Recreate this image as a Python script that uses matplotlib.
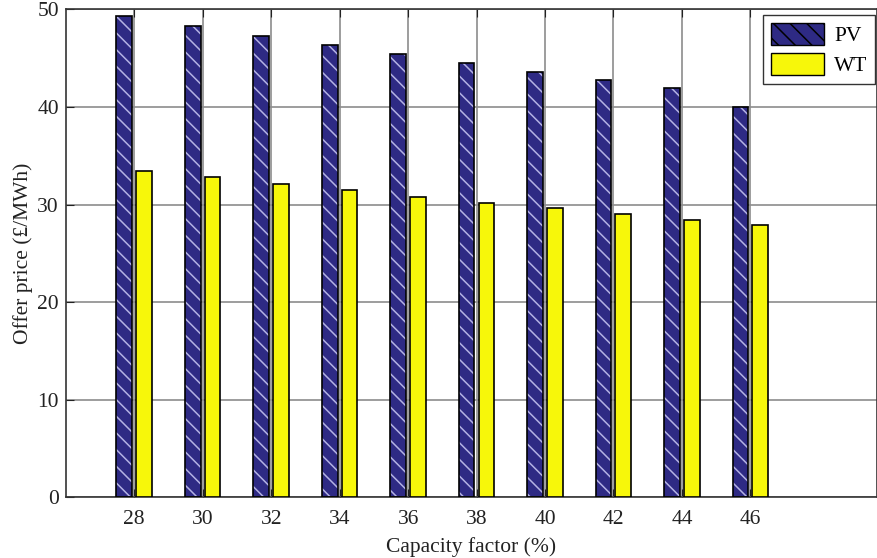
import numpy as np
import matplotlib
matplotlib.use('Agg')
import matplotlib.pyplot as plt
from matplotlib.patches import Patch

plt.rcParams['font.family'] = ['Liberation Serif', 'DejaVu Serif']
plt.rcParams['hatch.linewidth'] = 1.1

capacity = [28, 30, 32, 34, 36, 38, 40, 42, 44, 46]
pv_price = [49.3, 48.3, 47.3, 46.4, 45.4, 44.5, 43.6, 42.8, 41.9, 40.0]
wt_price = [33.4, 32.8, 32.1, 31.5, 30.8, 30.2, 29.6, 29.0, 28.4, 27.9]

pv_color = '#2e2a84'
hatch_color = '#b4b2e4'
wt_color = '#f7f70a'

x = np.array(capacity, dtype=float)
w = 0.46
off = 0.29

fig = plt.figure(figsize=(8.77, 5.58), dpi=100)
ax = fig.add_axes([0.075, 0.109, 0.925, 0.874])

# hatched fill first, then black outline on top
ax.bar(x - off, pv_price, width=w, color=pv_color, edgecolor=hatch_color,
       hatch='\\\\', linewidth=0, zorder=2)
ax.bar(x - off, pv_price, width=w, color='none', edgecolor='black',
       linewidth=1.2, zorder=3)
ax.bar(x + off, wt_price, width=w, color=wt_color, edgecolor='black',
       linewidth=1.2, zorder=3)

ax.set_xlim(26, 49.7)
ax.set_ylim(0, 50)
ax.set_xticks(capacity)
ax.set_yticks([0, 10, 20, 30, 40, 50])
ax.grid(True, color='#8c8c8c', linewidth=1.2)
ax.set_axisbelow(True)
ax.tick_params(direction='in', length=6, labelsize=15.5, colors='#222222',
               top=True, right=False)
ax.tick_params(axis='x', pad=9)
ax.tick_params(axis='y', pad=5)
for s in ax.spines.values():
    s.set_color('#333333')
    s.set_linewidth(1.2)

ax.set_xlabel('Capacity factor (%)', fontsize=15.5, color='#222222', labelpad=6)
ax.set_ylabel('Offer price (£/MWh)', fontsize=15.5, color='#222222', labelpad=3)

handles = [Patch(facecolor=pv_color, edgecolor='black', hatch='\\\\', label='PV'),
           Patch(facecolor=wt_color, edgecolor='black', label='WT')]
leg = ax.legend(handles=handles, loc='upper right', fontsize=15.5, fancybox=False,
                edgecolor='#333333', framealpha=1, handlelength=2.5,
                handleheight=1.25, borderaxespad=0, labelspacing=0.3,
                handletextpad=0.45, borderpad=0.35,
                bbox_to_anchor=(875 / 877, 1 - 15 / 558),
                bbox_transform=fig.transFigure)
leg.get_frame().set_linewidth(1.0)

fig.savefig('out.png', dpi=100)
